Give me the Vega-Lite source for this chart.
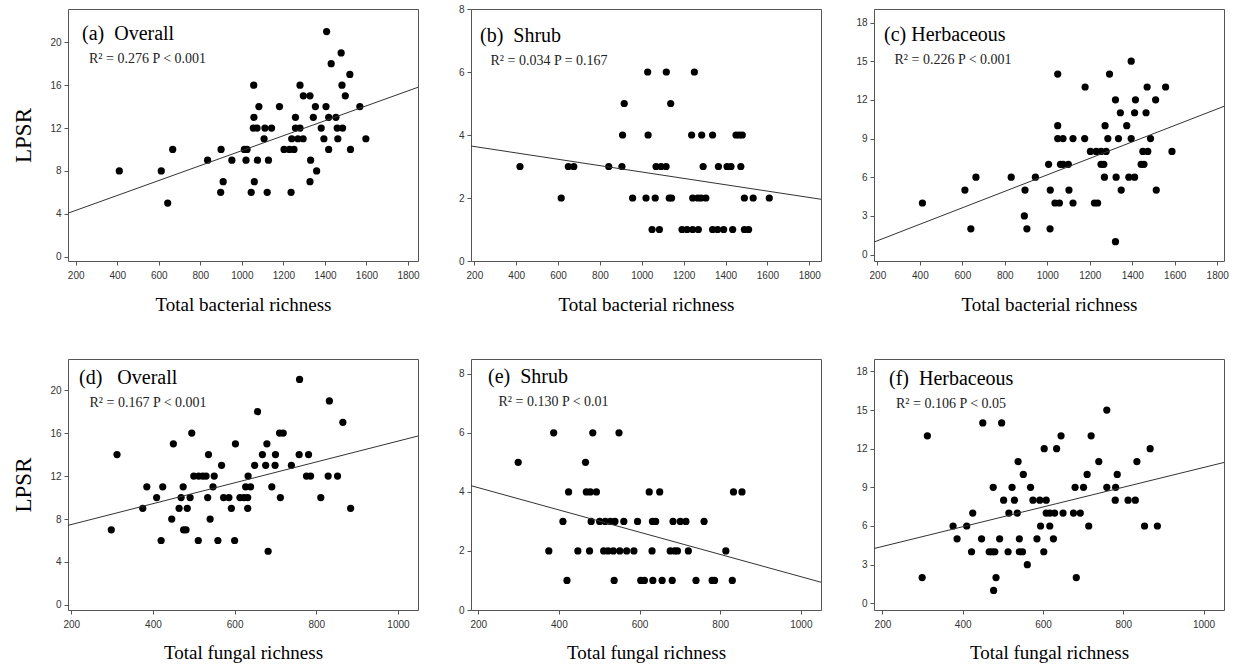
{
"$schema":"https://vega.github.io/schema/vega-lite/v6.json",
"background":"white",
"padding":{"left":12,"top":3,"right":0,"bottom":0},
"autosize":{"type":"pad"},
"config":{
 "view":{"stroke":"#555","strokeWidth":1},
 "axis":{"labelFont":"Liberation Sans","labelFontSize":10,"labelColor":"#333","tickColor":"#555","tickSize":4,"domain":false,"grid":false,"titleFont":"Liberation Serif","titleFontWeight":"normal","titleColor":"#000","labelPadding":3},
 "axisX":{"labelPadding":5,"format":"d"},
 "title":{"font":"Liberation Serif","fontSize":20,"fontWeight":"normal","color":"#000","subtitleFont":"Liberation Serif","subtitleFontSize":14,"subtitleColor":"#222","subtitlePadding":8,"anchor":"start","frame":"group","offset":0}
},
"datasets":{
"pts":[
{"p":"a","x":410,"y":8},{"p":"a","x":612,"y":8},{"p":"a","x":643,"y":5},{"p":"a","x":667,"y":10},{"p":"a","x":835,"y":9},{"p":"a","x":898,"y":6},{"p":"a","x":900,"y":10},{"p":"a","x":910,"y":7},{"p":"a","x":952,"y":9},{"p":"a","x":1012,"y":10},{"p":"a","x":1020,"y":9},{"p":"a","x":1025,"y":10},{"p":"a","x":1045,"y":6},{"p":"a","x":1055,"y":12},{"p":"a","x":1057,"y":16},{"p":"a","x":1058,"y":13},{"p":"a","x":1060,"y":7},{"p":"a","x":1073,"y":12},{"p":"a","x":1075,"y":9},{"p":"a","x":1082,"y":14},{"p":"a","x":1107,"y":11},{"p":"a","x":1111,"y":12},{"p":"a","x":1122,"y":6},{"p":"a","x":1128,"y":9},{"p":"a","x":1143,"y":12},{"p":"a","x":1181,"y":14},{"p":"a","x":1203,"y":10},{"p":"a","x":1229,"y":10},{"p":"a","x":1237,"y":6},{"p":"a","x":1240,"y":11},{"p":"a","x":1251,"y":10},{"p":"a","x":1258,"y":12},{"p":"a","x":1258,"y":13},{"p":"a","x":1270,"y":11},{"p":"a","x":1280,"y":12},{"p":"a","x":1280,"y":16},{"p":"a","x":1295,"y":11},{"p":"a","x":1296,"y":15},{"p":"a","x":1328,"y":15},{"p":"a","x":1328,"y":7},{"p":"a","x":1331,"y":9},{"p":"a","x":1344,"y":13},{"p":"a","x":1354,"y":14},{"p":"a","x":1360,"y":8},{"p":"a","x":1382,"y":12},{"p":"a","x":1395,"y":11},{"p":"a","x":1405,"y":14},{"p":"a","x":1408,"y":21},{"p":"a","x":1418,"y":13},{"p":"a","x":1418,"y":10},{"p":"a","x":1430,"y":18},{"p":"a","x":1453,"y":13},{"p":"a","x":1459,"y":12},{"p":"a","x":1462,"y":11},{"p":"a","x":1478,"y":19},{"p":"a","x":1482,"y":16},{"p":"a","x":1485,"y":12},{"p":"a","x":1498,"y":15},{"p":"a","x":1520,"y":17},{"p":"a","x":1523,"y":10},{"p":"a","x":1568,"y":14},{"p":"a","x":1597,"y":11},
{"p":"b","x":1028,"y":6},{"p":"b","x":1117,"y":6},{"p":"b","x":1251,"y":6},
{"p":"b","x":916,"y":5},{"p":"b","x":1138,"y":5},
{"p":"b","x":908,"y":4},{"p":"b","x":1030,"y":4},{"p":"b","x":1238,"y":4},{"p":"b","x":1286,"y":4},{"p":"b","x":1338,"y":4},{"p":"b","x":1450,"y":4},{"p":"b","x":1465,"y":4},{"p":"b","x":1480,"y":4},
{"p":"b","x":418,"y":3},{"p":"b","x":649,"y":3},{"p":"b","x":675,"y":3},{"p":"b","x":842,"y":3},{"p":"b","x":905,"y":3},{"p":"b","x":1068,"y":3},{"p":"b","x":1092,"y":3},{"p":"b","x":1116,"y":3},{"p":"b","x":1293,"y":3},{"p":"b","x":1366,"y":3},{"p":"b","x":1407,"y":3},{"p":"b","x":1426,"y":3},{"p":"b","x":1473,"y":3},
{"p":"b","x":615,"y":2},{"p":"b","x":956,"y":2},{"p":"b","x":1020,"y":2},{"p":"b","x":1064,"y":2},{"p":"b","x":1131,"y":2},{"p":"b","x":1142,"y":2},{"p":"b","x":1243,"y":2},{"p":"b","x":1267,"y":2},{"p":"b","x":1283,"y":2},{"p":"b","x":1306,"y":2},{"p":"b","x":1490,"y":2},{"p":"b","x":1532,"y":2},{"p":"b","x":1609,"y":2},
{"p":"b","x":1049,"y":1},{"p":"b","x":1084,"y":1},{"p":"b","x":1192,"y":1},{"p":"b","x":1216,"y":1},{"p":"b","x":1243,"y":1},{"p":"b","x":1270,"y":1},{"p":"b","x":1338,"y":1},{"p":"b","x":1362,"y":1},{"p":"b","x":1391,"y":1},{"p":"b","x":1434,"y":1},{"p":"b","x":1490,"y":1},{"p":"b","x":1510,"y":1},
{"p":"c","x":412,"y":4},{"p":"c","x":612,"y":5},{"p":"c","x":640,"y":2},{"p":"c","x":664,"y":6},{"p":"c","x":830,"y":6},{"p":"c","x":892,"y":3},{"p":"c","x":895,"y":5},{"p":"c","x":904,"y":2},{"p":"c","x":944,"y":6},{"p":"c","x":1006,"y":7},{"p":"c","x":1013,"y":2},{"p":"c","x":1014,"y":5},{"p":"c","x":1036,"y":4},{"p":"c","x":1049,"y":14},{"p":"c","x":1049,"y":10},{"p":"c","x":1049,"y":9},{"p":"c","x":1057,"y":4},{"p":"c","x":1062,"y":7},{"p":"c","x":1074,"y":9},{"p":"c","x":1074,"y":7},{"p":"c","x":1099,"y":7},{"p":"c","x":1102,"y":5},{"p":"c","x":1121,"y":9},{"p":"c","x":1121,"y":4},{"p":"c","x":1176,"y":9},{"p":"c","x":1178,"y":13},{"p":"c","x":1203,"y":8},{"p":"c","x":1222,"y":4},{"p":"c","x":1230,"y":8},{"p":"c","x":1237,"y":4},{"p":"c","x":1253,"y":8},{"p":"c","x":1253,"y":7},{"p":"c","x":1266,"y":7},{"p":"c","x":1269,"y":6},{"p":"c","x":1272,"y":10},{"p":"c","x":1277,"y":8},{"p":"c","x":1285,"y":9},{"p":"c","x":1293,"y":14},{"p":"c","x":1321,"y":12},{"p":"c","x":1321,"y":1},{"p":"c","x":1324,"y":6},{"p":"c","x":1335,"y":9},{"p":"c","x":1344,"y":11},{"p":"c","x":1348,"y":5},{"p":"c","x":1374,"y":10},{"p":"c","x":1384,"y":6},{"p":"c","x":1395,"y":15},{"p":"c","x":1395,"y":9},{"p":"c","x":1411,"y":6},{"p":"c","x":1411,"y":11},{"p":"c","x":1415,"y":12},{"p":"c","x":1442,"y":7},{"p":"c","x":1450,"y":8},{"p":"c","x":1455,"y":7},{"p":"c","x":1465,"y":11},{"p":"c","x":1470,"y":13},{"p":"c","x":1473,"y":8},{"p":"c","x":1486,"y":9},{"p":"c","x":1510,"y":12},{"p":"c","x":1513,"y":5},{"p":"c","x":1557,"y":13},{"p":"c","x":1587,"y":8},
{"p":"d","x":298,"y":7},{"p":"d","x":312,"y":14},{"p":"d","x":375,"y":9},{"p":"d","x":385,"y":11},{"p":"d","x":409,"y":10},{"p":"d","x":420,"y":6},{"p":"d","x":424,"y":11},{"p":"d","x":446,"y":8},{"p":"d","x":450,"y":15},{"p":"d","x":464,"y":9},{"p":"d","x":469,"y":10},{"p":"d","x":474,"y":11},{"p":"d","x":475,"y":7},{"p":"d","x":481,"y":7},{"p":"d","x":484,"y":9},{"p":"d","x":491,"y":10},{"p":"d","x":495,"y":16},{"p":"d","x":500,"y":12},{"p":"d","x":511,"y":6},{"p":"d","x":512,"y":12},{"p":"d","x":522,"y":12},{"p":"d","x":530,"y":12},{"p":"d","x":534,"y":10},{"p":"d","x":536,"y":14},{"p":"d","x":540,"y":8},{"p":"d","x":547,"y":11},{"p":"d","x":550,"y":12},{"p":"d","x":559,"y":6},{"p":"d","x":568,"y":13},{"p":"d","x":573,"y":10},{"p":"d","x":586,"y":10},{"p":"d","x":592,"y":9},{"p":"d","x":600,"y":6},{"p":"d","x":602,"y":15},{"p":"d","x":613,"y":10},{"p":"d","x":623,"y":10},{"p":"d","x":627,"y":11},{"p":"d","x":632,"y":10},{"p":"d","x":632,"y":9},{"p":"d","x":633,"y":12},{"p":"d","x":639,"y":11},{"p":"d","x":649,"y":13},{"p":"d","x":656,"y":18},{"p":"d","x":668,"y":14},{"p":"d","x":676,"y":13},{"p":"d","x":679,"y":15},{"p":"d","x":682,"y":5},{"p":"d","x":691,"y":11},{"p":"d","x":699,"y":13},{"p":"d","x":700,"y":14},{"p":"d","x":710,"y":16},{"p":"d","x":712,"y":10},{"p":"d","x":719,"y":16},{"p":"d","x":739,"y":13},{"p":"d","x":758,"y":14},{"p":"d","x":759,"y":21},{"p":"d","x":776,"y":12},{"p":"d","x":781,"y":14},{"p":"d","x":786,"y":12},{"p":"d","x":811,"y":10},{"p":"d","x":829,"y":12},{"p":"d","x":832,"y":19},{"p":"d","x":852,"y":12},{"p":"d","x":865,"y":17},{"p":"d","x":884,"y":9},
{"p":"e","x":387,"y":6},{"p":"e","x":484,"y":6},{"p":"e","x":549,"y":6},
{"p":"e","x":299,"y":5},{"p":"e","x":466,"y":5},
{"p":"e","x":424,"y":4},{"p":"e","x":468,"y":4},{"p":"e","x":478,"y":4},{"p":"e","x":493,"y":4},{"p":"e","x":624,"y":4},{"p":"e","x":650,"y":4},{"p":"e","x":833,"y":4},{"p":"e","x":854,"y":4},
{"p":"e","x":410,"y":3},{"p":"e","x":480,"y":3},{"p":"e","x":501,"y":3},{"p":"e","x":515,"y":3},{"p":"e","x":528,"y":3},{"p":"e","x":539,"y":3},{"p":"e","x":561,"y":3},{"p":"e","x":595,"y":3},{"p":"e","x":632,"y":3},{"p":"e","x":640,"y":3},{"p":"e","x":683,"y":3},{"p":"e","x":701,"y":3},{"p":"e","x":715,"y":3},{"p":"e","x":760,"y":3},
{"p":"e","x":375,"y":2},{"p":"e","x":447,"y":2},{"p":"e","x":476,"y":2},{"p":"e","x":511,"y":2},{"p":"e","x":522,"y":2},{"p":"e","x":535,"y":2},{"p":"e","x":551,"y":2},{"p":"e","x":568,"y":2},{"p":"e","x":586,"y":2},{"p":"e","x":631,"y":2},{"p":"e","x":676,"y":2},{"p":"e","x":687,"y":2},{"p":"e","x":694,"y":2},{"p":"e","x":721,"y":2},{"p":"e","x":814,"y":2},
{"p":"e","x":420,"y":1},{"p":"e","x":537,"y":1},{"p":"e","x":603,"y":1},{"p":"e","x":612,"y":1},{"p":"e","x":633,"y":1},{"p":"e","x":656,"y":1},{"p":"e","x":681,"y":1},{"p":"e","x":740,"y":1},{"p":"e","x":780,"y":1},{"p":"e","x":786,"y":1},{"p":"e","x":830,"y":1},
{"p":"f","x":299,"y":2},{"p":"f","x":312,"y":13},{"p":"f","x":376,"y":6},{"p":"f","x":386,"y":5},{"p":"f","x":410,"y":6},{"p":"f","x":422,"y":4},{"p":"f","x":425,"y":7},{"p":"f","x":447,"y":5},{"p":"f","x":450,"y":14},{"p":"f","x":466,"y":4},{"p":"f","x":473,"y":4},{"p":"f","x":480,"y":4},{"p":"f","x":476,"y":9},{"p":"f","x":477,"y":1},{"p":"f","x":483,"y":2},{"p":"f","x":492,"y":5},{"p":"f","x":497,"y":14},{"p":"f","x":502,"y":8},{"p":"f","x":513,"y":4},{"p":"f","x":515,"y":7},{"p":"f","x":523,"y":9},{"p":"f","x":529,"y":8},{"p":"f","x":536,"y":7},{"p":"f","x":538,"y":11},{"p":"f","x":541,"y":5},{"p":"f","x":541,"y":4},{"p":"f","x":549,"y":4},{"p":"f","x":551,"y":10},{"p":"f","x":561,"y":3},{"p":"f","x":569,"y":9},{"p":"f","x":575,"y":8},{"p":"f","x":585,"y":5},{"p":"f","x":594,"y":6},{"p":"f","x":602,"y":4},{"p":"f","x":603,"y":12},{"p":"f","x":592,"y":8},{"p":"f","x":608,"y":8},{"p":"f","x":626,"y":5},{"p":"f","x":608,"y":7},{"p":"f","x":617,"y":7},{"p":"f","x":629,"y":7},{"p":"f","x":650,"y":7},{"p":"f","x":617,"y":6},{"p":"f","x":634,"y":12},{"p":"f","x":645,"y":13},{"p":"f","x":676,"y":7},{"p":"f","x":693,"y":7},{"p":"f","x":680,"y":9},{"p":"f","x":683,"y":2},{"p":"f","x":701,"y":9},{"p":"f","x":710,"y":10},{"p":"f","x":714,"y":6},{"p":"f","x":720,"y":13},{"p":"f","x":739,"y":11},{"p":"f","x":759,"y":15},{"p":"f","x":759,"y":9},{"p":"f","x":781,"y":9},{"p":"f","x":785,"y":10},{"p":"f","x":780,"y":8},{"p":"f","x":812,"y":8},{"p":"f","x":830,"y":8},{"p":"f","x":834,"y":11},{"p":"f","x":853,"y":6},{"p":"f","x":867,"y":12},{"p":"f","x":885,"y":6}
],
"fit":[
{"p":"a","x":163,"y":4.06},{"p":"a","x":1848,"y":15.8},
{"p":"b","x":184,"y":3.65},{"p":"b","x":1856,"y":1.96},
{"p":"c","x":184,"y":0.97},{"p":"c","x":1832,"y":11.5},
{"p":"d","x":192,"y":7.41},{"p":"d","x":1049,"y":15.73},
{"p":"e","x":182,"y":4.21},{"p":"e","x":1050,"y":0.94},
{"p":"f","x":179,"y":4.25},{"p":"f","x":1051,"y":10.93}
]
},
"spacing":43,
"vconcat":[
{"spacing":53,"bounds":"flush","hconcat":[
 {"width":350,"height":252,
  "title":{"text":"(a)\u00a0\u00a0Overall","subtitle":"\u200b\u00a0\u00a0R² = 0.276 P < 0.001","dx":14,"dy":61},
  "layer":[
   {"data":{"name":"pts"},"transform":[{"filter":"datum.p === 'a'"}],"mark":{"type":"circle","size":52,"color":"#000","opacity":1},
    "encoding":{"x":{"field":"x","type":"quantitative","scale":{"domain":[163,1848],"nice":false,"zero":false},"axis":{"values":[200,400,600,800,1000,1200,1400,1600,1800],"title":"Total bacterial richness","titleFontSize":19,"titlePadding":15}},
     "y":{"field":"y","type":"quantitative","scale":{"domain":[-0.4,23.1],"nice":false,"zero":false},"axis":{"values":[0,4,8,12,16,20],"title":"LPSR","titleFontSize":23,"titlePadding":14}}}},
   {"data":{"name":"fit"},"transform":[{"filter":"datum.p === 'a'"}],"mark":{"type":"line","color":"#333","strokeWidth":1},
    "encoding":{"x":{"field":"x","type":"quantitative"},"y":{"field":"y","type":"quantitative"}}}
  ]},
 {"width":350,"height":252,
  "title":{"text":"(b)\u00a0\u00a0Shrub","subtitle":"\u200b\u00a0\u00a0\u00a0R² = 0.034 P = 0.167","dx":9,"dy":68},
  "layer":[
   {"data":{"name":"pts"},"transform":[{"filter":"datum.p === 'b'"}],"mark":{"type":"circle","size":52,"color":"#000","opacity":1},
    "encoding":{"x":{"field":"x","type":"quantitative","scale":{"domain":[184,1856],"nice":false,"zero":false},"axis":{"values":[200,400,600,800,1000,1200,1400,1600,1800],"title":"Total bacterial richness","titleFontSize":19,"titlePadding":15}},
     "y":{"field":"y","type":"quantitative","scale":{"domain":[0,8],"nice":false,"zero":false},"axis":{"values":[0,2,4,6,8],"title":null}}}},
   {"data":{"name":"fit"},"transform":[{"filter":"datum.p === 'b'"}],"mark":{"type":"line","color":"#333","strokeWidth":1},
    "encoding":{"x":{"field":"x","type":"quantitative"},"y":{"field":"y","type":"quantitative"}}}
  ]},
 {"width":350,"height":252,
  "title":{"text":"(c)\u00a0Herbaceous","subtitle":"\u200b\u00a0\u00a0\u00a0R² = 0.226 P < 0.001","dx":10,"dy":62},
  "layer":[
   {"data":{"name":"pts"},"transform":[{"filter":"datum.p === 'c'"}],"mark":{"type":"circle","size":52,"color":"#000","opacity":1},
    "encoding":{"x":{"field":"x","type":"quantitative","scale":{"domain":[184,1832],"nice":false,"zero":false},"axis":{"values":[200,400,600,800,1000,1200,1400,1600,1800],"title":"Total bacterial richness","titleFontSize":19,"titlePadding":15}},
     "y":{"field":"y","type":"quantitative","scale":{"domain":[-0.5,19.05],"nice":false,"zero":false},"axis":{"values":[0,3,6,9,12,15,18],"title":null}}}},
   {"data":{"name":"fit"},"transform":[{"filter":"datum.p === 'c'"}],"mark":{"type":"line","color":"#333","strokeWidth":1},
    "encoding":{"x":{"field":"x","type":"quantitative"},"y":{"field":"y","type":"quantitative"}}}
  ]}
]},
{"spacing":53,"bounds":"flush","hconcat":[
 {"width":350,"height":251,
  "title":{"text":"(d)\u00a0\u00a0\u00a0Overall","subtitle":"\u200b\u00a0\u00a0\u00a0R² = 0.167 P < 0.001","dx":11,"dy":55},
  "layer":[
   {"data":{"name":"pts"},"transform":[{"filter":"datum.p === 'd'"}],"mark":{"type":"circle","size":52,"color":"#000","opacity":1},
    "encoding":{"x":{"field":"x","type":"quantitative","scale":{"domain":[192,1049],"nice":false,"zero":false},"axis":{"values":[200,400,600,800,1000],"title":"Total fungal richness","titleFontSize":19,"titlePadding":14}},
     "y":{"field":"y","type":"quantitative","scale":{"domain":[-0.47,22.9],"nice":false,"zero":false},"axis":{"values":[0,4,8,12,16,20],"title":"LPSR","titleFontSize":23,"titlePadding":14}}}},
   {"data":{"name":"fit"},"transform":[{"filter":"datum.p === 'd'"}],"mark":{"type":"line","color":"#333","strokeWidth":1},
    "encoding":{"x":{"field":"x","type":"quantitative"},"y":{"field":"y","type":"quantitative"}}}
  ]},
 {"width":350,"height":251,
  "title":{"text":"(e)\u00a0\u00a0Shrub","subtitle":"\u200b\u00a0\u00a0\u00a0R² = 0.130 P < 0.01","dx":17,"dy":54},
  "layer":[
   {"data":{"name":"pts"},"transform":[{"filter":"datum.p === 'e'"}],"mark":{"type":"circle","size":52,"color":"#000","opacity":1},
    "encoding":{"x":{"field":"x","type":"quantitative","scale":{"domain":[182,1050],"nice":false,"zero":false},"axis":{"values":[200,400,600,800,1000],"title":"Total fungal richness","titleFontSize":19,"titlePadding":14}},
     "y":{"field":"y","type":"quantitative","scale":{"domain":[0,8.5],"nice":false,"zero":false},"axis":{"values":[0,2,4,6,8],"title":null}}}},
   {"data":{"name":"fit"},"transform":[{"filter":"datum.p === 'e'"}],"mark":{"type":"line","color":"#333","strokeWidth":1},
    "encoding":{"x":{"field":"x","type":"quantitative"},"y":{"field":"y","type":"quantitative"}}}
  ]},
 {"width":350,"height":251,
  "title":{"text":"(f)\u00a0\u00a0Herbaceous","subtitle":"\u200b\u00a0\u00a0R² = 0.106 P < 0.05","dx":15,"dy":56},
  "layer":[
   {"data":{"name":"pts"},"transform":[{"filter":"datum.p === 'f'"}],"mark":{"type":"circle","size":52,"color":"#000","opacity":1},
    "encoding":{"x":{"field":"x","type":"quantitative","scale":{"domain":[179,1051],"nice":false,"zero":false},"axis":{"values":[200,400,600,800,1000],"title":"Total fungal richness","titleFontSize":19,"titlePadding":14}},
     "y":{"field":"y","type":"quantitative","scale":{"domain":[-0.52,18.96],"nice":false,"zero":false},"axis":{"values":[0,3,6,9,12,15,18],"title":null}}}},
   {"data":{"name":"fit"},"transform":[{"filter":"datum.p === 'f'"}],"mark":{"type":"line","color":"#333","strokeWidth":1},
    "encoding":{"x":{"field":"x","type":"quantitative"},"y":{"field":"y","type":"quantitative"}}}
  ]}
]}
]
}
